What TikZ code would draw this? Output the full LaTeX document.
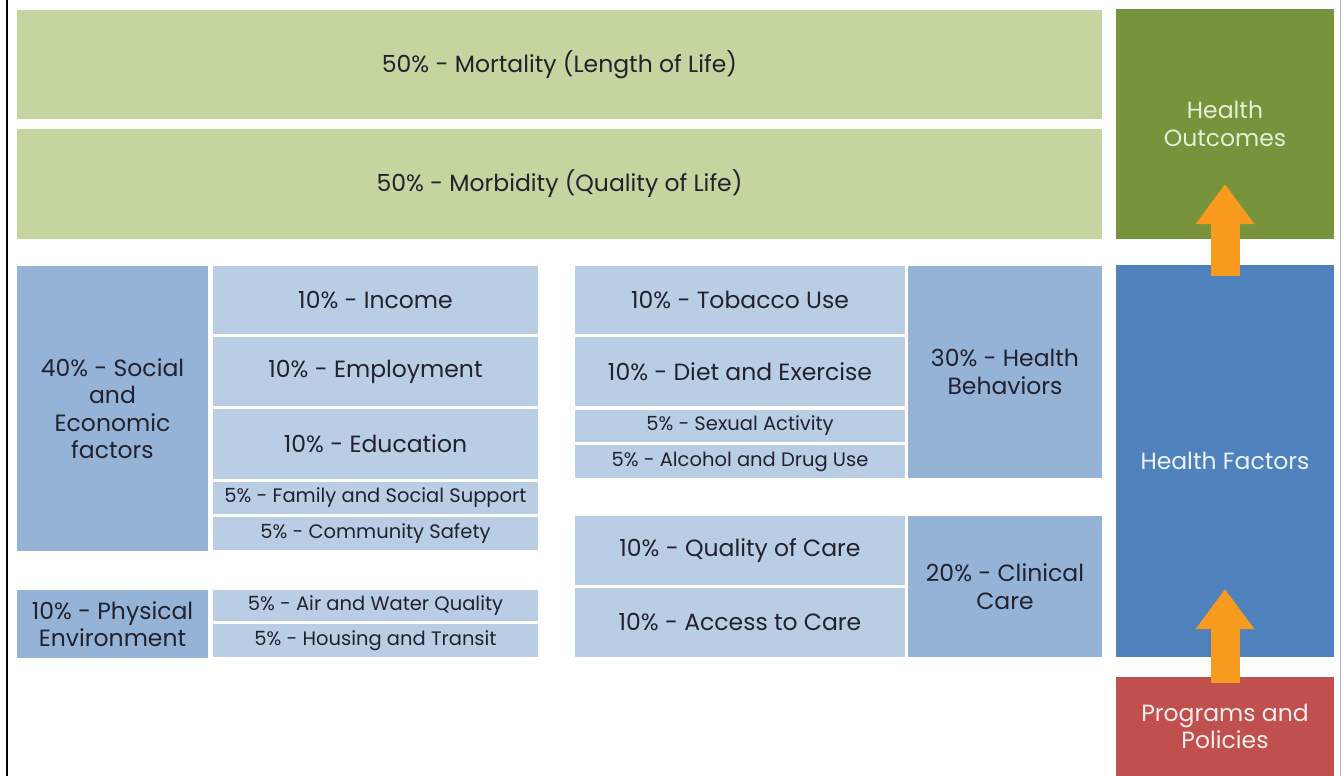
\documentclass[tikz,border=0pt]{standalone}
\usepackage{fontspec}
\setmainfont{Poppins}
\usetikzlibrary{arrows.meta}
\definecolor{lgreen}{HTML}{C4D59F}
\definecolor{dgreen}{HTML}{77933C}
\definecolor{fblue}{HTML}{4F81BD}
\definecolor{pred}{HTML}{C0504D}
\definecolor{mblue}{HTML}{95B3D7}
\definecolor{lblue}{HTML}{B9CDE5}
\definecolor{orng}{HTML}{F79A1E}
\definecolor{txt}{HTML}{22222E}
\tikzset{
  cell/.style={rectangle, inner sep=0pt, outer sep=0pt, align=center, text=txt, font=\fontsize{23.5}{27.5}\selectfont},
  big/.style={cell, fill=lgreen},
  head/.style={cell, fill=mblue},
  sub/.style={cell, fill=lblue},
  small/.style={font=\fontsize{19.5}{22}\selectfont},
  uparrow/.style={draw=orng, line width=29pt, line cap=butt, -{Triangle[width=56pt,length=40pt]}},
}
\newcommand{\cellnode}[7]{%
  \node[#6, minimum width={#4-#2}, minimum height={#5-#3}] (#1) at ({(#2+#4)/2},{(#3+#5)/2}) {#7};}
\begin{document}
\begin{tikzpicture}[x=1pt,y=-1pt]
\useasboundingbox (0,0) rectangle (1341,776);
\fill[white] (0,0) rectangle (1341,776);
\draw[line width=2pt, black] (6.5,0) -- (6.5,776);
\draw[line width=1pt, black!30] (1340,0) -- (1340,776);
% top band
\cellnode{mort}{17}{10}{1102}{119}{big}{50\% - Mortality (Length of Life)}
\cellnode{morb}{17}{129}{1102}{239}{big}{50\% - Morbidity (Quality of Life)}
% right column
\cellnode{outc}{1116}{9}{1334}{239}{cell, fill=dgreen, text=lgreen!40}{Health\\Outcomes}
\cellnode{fact}{1116}{265}{1334}{657}{cell, fill=fblue, text=white!90!fblue}{Health Factors}
\cellnode{prog}{1116}{677}{1334}{776}{cell, fill=pred, text=white!90!pred}{Programs and\\Policies}
% social and economic
\cellnode{soc}{17}{266}{208}{551}{head}{40\% - Social\\and\\Economic\\factors}
\cellnode{inc}{213}{266}{538}{334}{sub}{10\% - Income}
\cellnode{emp}{213}{337}{538}{406}{sub}{10\% - Employment}
\cellnode{edu}{213}{409}{538}{479}{sub}{10\% - Education}
\cellnode{fam}{213}{482}{538}{514}{sub, small}{5\% - Family and Social Support}
\cellnode{com}{213}{517}{538}{550}{sub, small}{5\% - Community Safety}
% physical environment
\cellnode{phys}{17}{590}{208}{658}{head}{10\% - Physical\\Environment}
\cellnode{air}{213}{590}{538}{621}{sub, small}{5\% - Air and Water Quality}
\cellnode{hou}{213}{624}{538}{657}{sub, small}{5\% - Housing and Transit}
% health behaviors
\cellnode{tob}{575}{266}{905}{334}{sub}{10\% - Tobacco Use}
\cellnode{diet}{575}{337}{905}{406}{sub}{10\% - Diet and Exercise}
\cellnode{sex}{575}{410}{905}{442}{sub, small}{5\% - Sexual Activity}
\cellnode{alc}{575}{445}{905}{478}{sub, small}{5\% - Alcohol and Drug Use}
\cellnode{beh}{908}{266}{1102}{478}{head}{30\% - Health\\Behaviors}
% clinical care
\cellnode{qual}{575}{516}{905}{585}{sub}{10\% - Quality of Care}
\cellnode{acc}{575}{588}{905}{657}{sub}{10\% - Access to Care}
\cellnode{clin}{908}{516}{1102}{657}{head}{20\% - Clinical\\Care}
% arrows
\coordinate (a1s) at (1225,276);
\coordinate (a1e) at (1225,184);
\coordinate (a2s) at (1225,683);
\coordinate (a2e) at (1225,589);
\draw[uparrow] (a1s) -- (a1e);
\draw[uparrow] (a2s) -- (a2e);
\end{tikzpicture}
\end{document}
